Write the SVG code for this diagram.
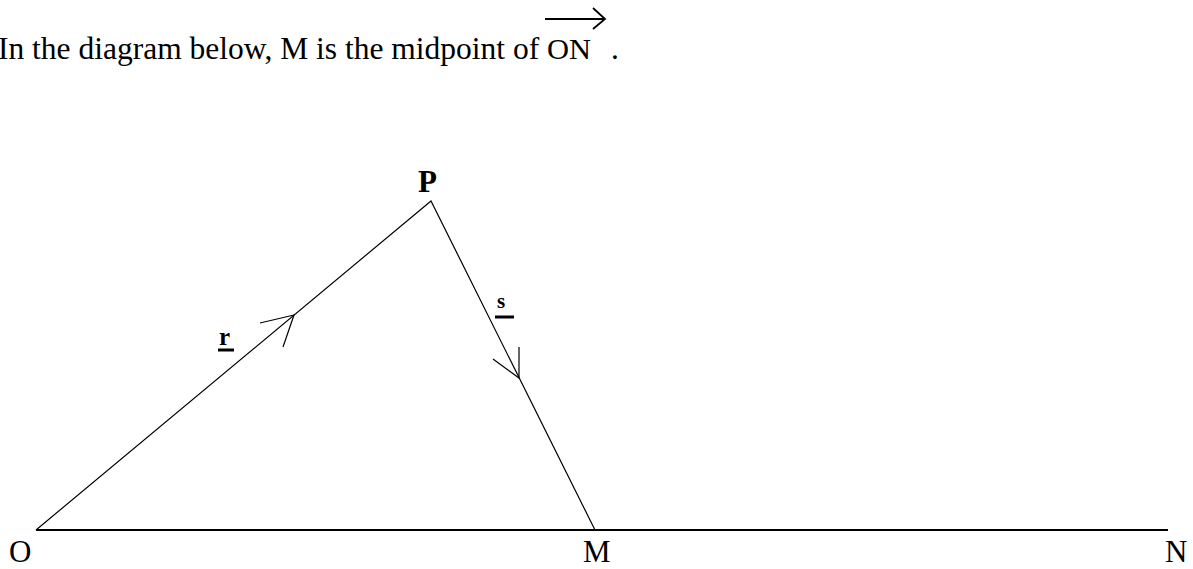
<svg xmlns="http://www.w3.org/2000/svg" width="1193" height="569" viewBox="0 0 1193 569">
<style>
.t{font-family:"Liberation Serif","Times New Roman",serif;fill:#000}
.lbl{font-family:"Liberation Serif","Times New Roman",serif;font-size:31px;fill:#000}
.v{font-family:"Liberation Serif","Times New Roman",serif;font-weight:bold;fill:#000}
.e{stroke:#000;stroke-width:1.2;fill:none}
.u{stroke:#000;stroke-width:3}
</style>
<rect width="1193" height="569" fill="#fff"/>
<g id="title">
<text class="t" x="-2" y="59" font-size="31.5">In the diagram below, M is the midpoint of</text>
<text class="t" x="547" y="59" font-size="29" fill="#555" textLength="44" lengthAdjust="spacingAndGlyphs">ON</text>
<text class="t" x="611" y="59" font-size="31.5">.</text>
<path d="M545 19H605M593 8L605 19L593 29" stroke="#000" stroke-width="1.8" fill="none"/>
</g>
<g id="connectors">
<path class="e" d="M36 530L431 201L595 530"/>
<path d="M36 530H1168" stroke="#000" stroke-width="2.2"/>
<path class="e" d="M260 323L294 315L283 347"/>
<path class="e" d="M493 359L519 378L519 347"/>
</g>
<g id="node-r"><text class="v" x="219" y="345" font-size="25">r</text><path class="u" d="M218 350H234"/></g>
<g id="node-s"><text class="v" x="497" y="308" font-size="21">s</text><path class="u" d="M495 317H514"/></g>
<g id="node-P"><text class="lbl" x="418" y="192" font-size="28" font-weight="bold">P</text></g>
<g id="node-O"><text class="lbl" x="9" y="562">O</text></g>
<g id="node-M"><text class="lbl" x="583" y="562">M</text></g>
<g id="node-N"><text class="lbl" x="1165" y="562">N</text></g>
</svg>
